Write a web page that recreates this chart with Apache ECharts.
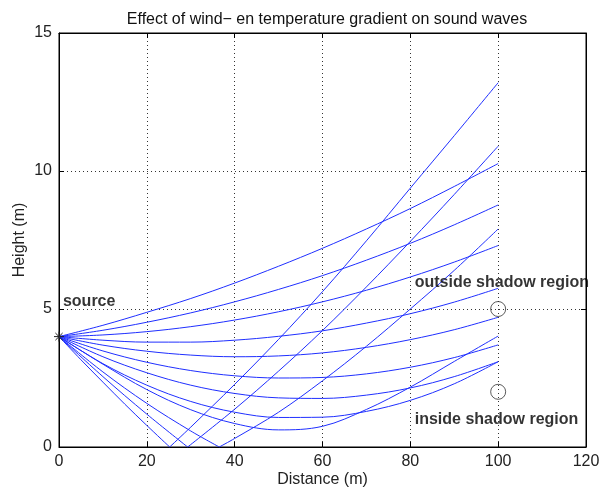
<!DOCTYPE html>
<html>
<head>
<meta charset="utf-8">
<script src="https://cdn.jsdelivr.net/npm/echarts/dist/echarts.min.js"></script>
<style>
html, body { margin: 0; padding: 0; background: #fff; }
#chart { width: 604px; height: 488px; }
</style>
</head>
<body>
<div id="chart"></div>
<script>
// Sampling distances (m) for the rays that stay above the ground
const distance = [0, 10, 20, 30, 40, 50, 60, 70, 80, 90, 100];

// Heights (m) of the direct rays from the source at 4 m
const ray1 = [4, 4.41, 4.88, 5.38, 5.94, 6.55, 7.20, 7.90, 8.64, 9.44, 10.27];
const ray2 = [4, 4.23, 4.52, 4.86, 5.26, 5.71, 6.21, 6.77, 7.38, 8.05, 8.77];
const ray3 = [4, 4.06, 4.18, 4.36, 4.60, 4.90, 5.26, 5.68, 6.16, 6.70, 7.30];
const ray4 = [4, 3.87, 3.80, 3.80, 3.87, 4.01, 4.21, 4.49, 4.83, 5.25, 5.75];
const ray5 = [4, 3.69, 3.47, 3.33, 3.27, 3.30, 3.41, 3.61, 3.89, 4.25, 4.70];
const ray6 = [4, 3.48, 3.07, 2.77, 2.58, 2.50, 2.52, 2.65, 2.89, 3.24, 3.70];
const ray7 = [4, 3.27, 2.69, 2.24, 1.94, 1.78, 1.76, 1.88, 2.14, 2.55, 3.09];
const ray8 = [4, 3.02, 2.24, 1.65, 1.26, 1.07, 1.08, 1.29, 1.69, 2.29, 3.09];
const ray9 = [4, 3.00, 2.08, 1.35, 0.85, 0.62, 0.75, 1.36, 2.17, 3.10, 4.02];

// Rays that bounce off the ground (height 0 marks the reflection point)
const ray10Distance = [0, 10, 20, 30, 36.5, 40, 50, 60, 70, 80, 90, 100];
const ray10Height   = [4, 2.72, 1.58, 0.58, 0, 0.31, 1.26, 2.40, 3.65, 5.00, 6.40, 7.9];
const ray11Distance = [0, 10, 20, 29.3, 40, 50, 60, 70, 80, 90, 100];
const ray11Height   = [4, 2.55, 1.19, 0, 1.37, 2.75, 4.22, 5.80, 7.45, 9.15, 10.9];
const ray12Distance = [0, 5, 10, 15, 20, 25.2, 30, 40, 50, 60, 70, 80, 90, 100];
const ray12Height   = [4, 3.16, 2.35, 1.55, 0.78, 0, 0.72, 2.27, 3.90, 5.63, 7.47, 9.38, 11.28, 13.2];

// Axis ticks
const xTicks = [0, 20, 40, 60, 80, 100, 120];
const yTicks = [0, 5, 10, 15];

// Source and receiver points
const sourcePoint = [0, 4];
const receiverPoints = [[100, 5], [100, 2]];

// Annotations: [x, y, text]
const notes = [
  [0.9, 5.27, 'source'],
  [81, 5.94, 'outside shadow region'],
  [81, 1.0, 'inside shadow region']
];

const RAY_COLOR = '#1f2fff';
const FONT = 'Liberation Sans, Arial, Helvetica, sans-serif';

function lineSeries(points) {
  return {
    type: 'line',
    data: points,
    smooth: 0.35,
    showSymbol: false,
    symbol: 'none',
    lineStyle: { color: RAY_COLOR, width: 1 },
    silent: true,
    z: 3
  };
}

const series = [];
[ray1, ray2, ray3, ray4, ray5, ray6, ray7, ray8, ray9].forEach(function (h) {
  series.push(lineSeries(distance.map(function (x, i) { return [x, h[i]]; })));
});
[[ray10Distance, ray10Height], [ray11Distance, ray11Height], [ray12Distance, ray12Height]].forEach(function (r) {
  const xs = r[0], hs = r[1];
  const k = hs.indexOf(0);
  const pts = xs.map(function (x, i) { return [x, hs[i]]; });
  series.push(lineSeries(pts.slice(0, k + 1)));
  series.push(lineSeries(pts.slice(k)));
});

// Asterisk at the source
series.push({
  type: 'custom',
  clip: false,
  silent: true,
  z: 5,
  data: [sourcePoint],
  renderItem: function (params, api) {
    const p = api.coord([api.value(0), api.value(1)]);
    const r = 5, d = 3.6;
    const st = { stroke: '#222', lineWidth: 1 };
    return {
      type: 'group',
      children: [
        { type: 'line', shape: { x1: p[0] - r, y1: p[1], x2: p[0] + r, y2: p[1] }, style: st },
        { type: 'line', shape: { x1: p[0], y1: p[1] - r, x2: p[0], y2: p[1] + r }, style: st },
        { type: 'line', shape: { x1: p[0] - d, y1: p[1] - d, x2: p[0] + d, y2: p[1] + d }, style: st },
        { type: 'line', shape: { x1: p[0] - d, y1: p[1] + d, x2: p[0] + d, y2: p[1] - d }, style: st }
      ]
    };
  }
});

// Receiver circles
series.push({
  type: 'scatter',
  data: receiverPoints,
  symbol: 'circle',
  symbolSize: 15,
  silent: true,
  z: 5,
  itemStyle: { color: 'rgba(0,0,0,0)', borderColor: '#333', borderWidth: 1 }
});

// Text annotations
series.push({
  type: 'scatter',
  data: notes.map(function (n) { return { value: [n[0], n[1]], name: n[2] }; }),
  symbolSize: 0,
  silent: true,
  z: 6,
  label: {
    show: true,
    position: 'right',
    distance: 0,
    formatter: function (p) { return p.name; },
    fontFamily: FONT,
    fontWeight: 'bold',
    fontSize: 16,
    color: '#000'
  }
});

const labelFont = { fontFamily: FONT, fontSize: 16, color: '#222' };
const gridDots = { show: true, lineStyle: { color: '#333', width: 1, type: [1, 3] } };

const chart = echarts.init(document.getElementById('chart'), null, { renderer: 'canvas' });
chart.setOption({
  animation: false,
  backgroundColor: '#fff',
  title: {
    text: 'Effect of wind\u2212 en temperature gradient on sound waves',
    left: 322,
    textAlign: 'center',
    top: 7,
    textStyle: { fontFamily: FONT, fontSize: 16, fontWeight: 'normal', color: '#111' }
  },
  grid: {
    left: 59, right: 18, top: 33, bottom: 41,
    show: true, borderColor: '#000', borderWidth: 1,
    containLabel: false, outerBoundsMode: 'none'
  },
  xAxis: [
    {
      type: 'value', min: xTicks[0], max: xTicks[xTicks.length - 1], interval: 20,
      position: 'bottom',
      axisLine: { show: true, onZero: false, lineStyle: { color: '#000' } },
      axisTick: { show: true, inside: true, length: 5, lineStyle: { color: '#000' } },
      axisLabel: Object.assign({ margin: 7 }, labelFont),
      splitLine: gridDots,
      name: 'Distance (m)', nameLocation: 'middle', nameGap: 25, nameMoveOverlap: false,
      nameTextStyle: labelFont
    },
    {
      type: 'value', min: xTicks[0], max: xTicks[xTicks.length - 1], interval: 20,
      position: 'top',
      axisLine: { show: true, onZero: false, lineStyle: { color: '#000' } },
      axisTick: { show: true, inside: true, length: 5, lineStyle: { color: '#000' } },
      axisLabel: { show: false },
      splitLine: { show: false }
    }
  ],
  yAxis: [
    {
      type: 'value', min: yTicks[0], max: yTicks[yTicks.length - 1], interval: 5,
      position: 'left',
      axisLine: { show: true, onZero: false, lineStyle: { color: '#000' } },
      axisTick: { show: true, inside: true, length: 5, lineStyle: { color: '#000' } },
      axisLabel: Object.assign({ margin: 7 }, labelFont),
      splitLine: gridDots,
      name: 'Height (m)', nameLocation: 'middle', nameGap: 31, nameMoveOverlap: false,
      nameTextStyle: labelFont
    },
    {
      type: 'value', min: yTicks[0], max: yTicks[yTicks.length - 1], interval: 5,
      position: 'right',
      axisLine: { show: true, onZero: false, lineStyle: { color: '#000' } },
      axisTick: { show: true, inside: true, length: 5, lineStyle: { color: '#000' } },
      axisLabel: { show: false },
      splitLine: { show: false }
    }
  ],
  series: series
});
</script>
</body>
</html>
